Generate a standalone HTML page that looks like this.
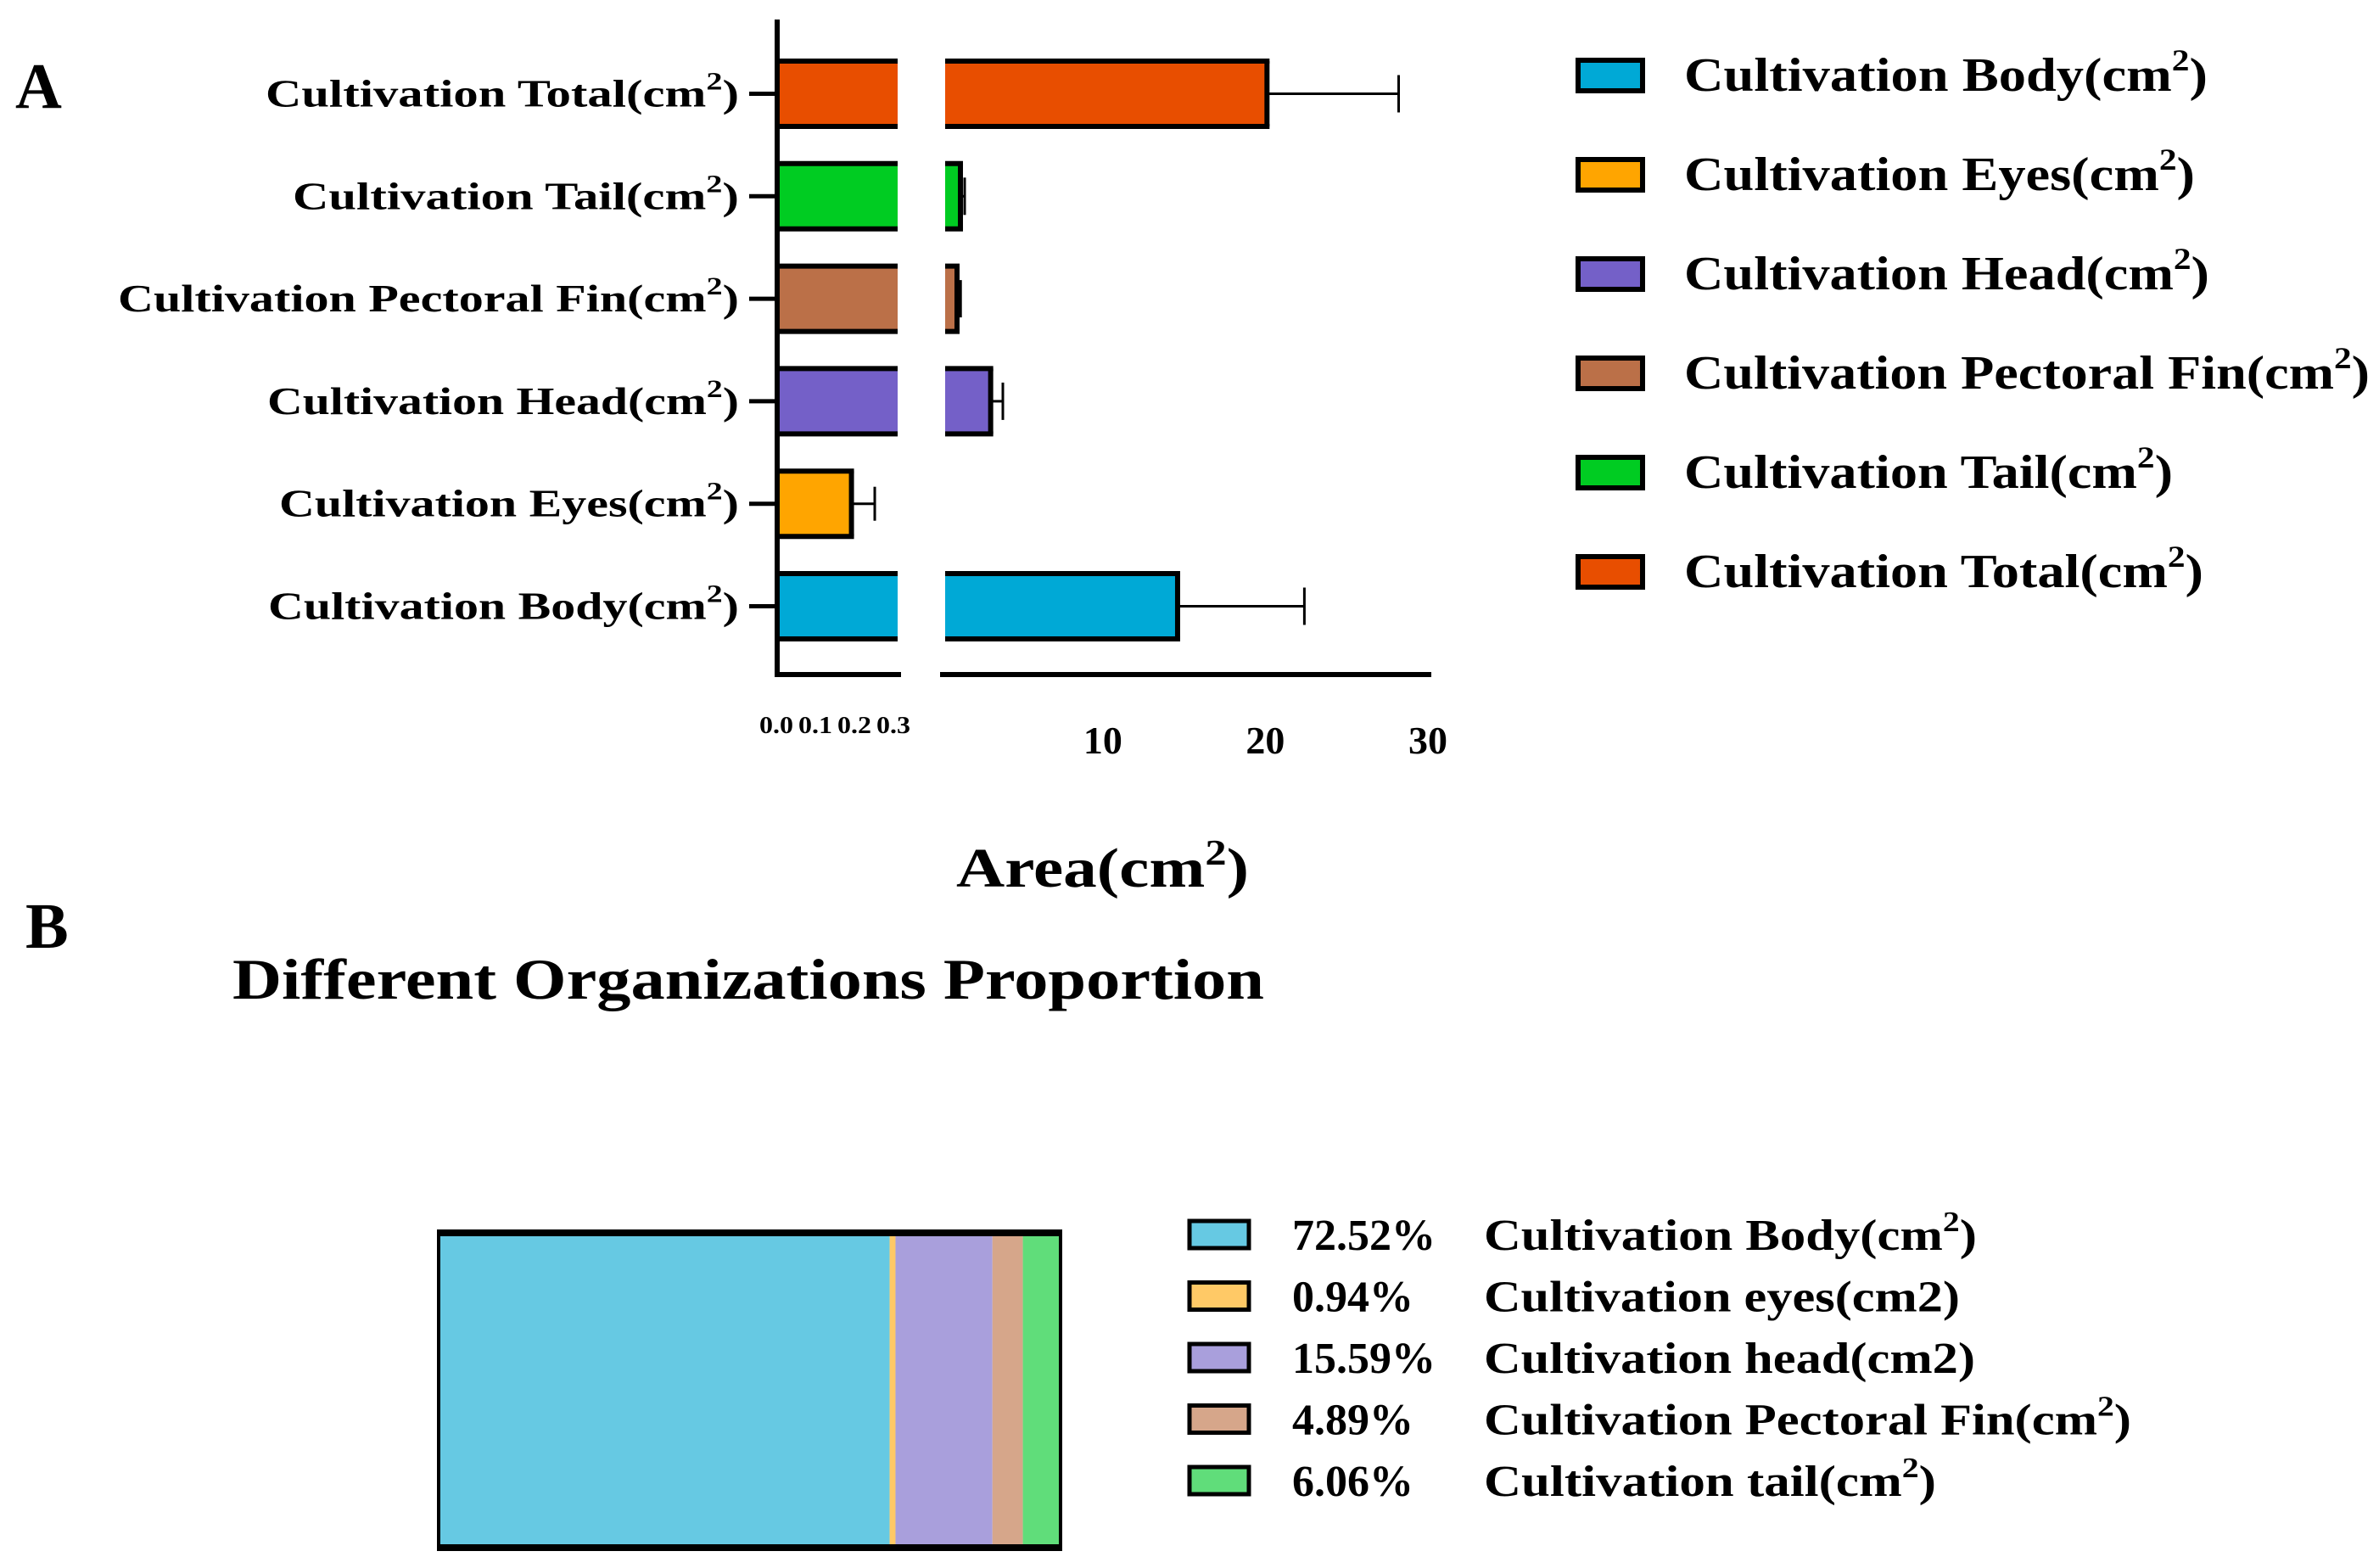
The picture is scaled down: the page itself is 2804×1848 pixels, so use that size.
<!DOCTYPE html>
<html><head><meta charset="utf-8"><style>
html,body{margin:0;padding:0;background:#fff}
svg{display:block}
text{font-family:"Liberation Serif",serif;font-weight:bold;fill:#000}
</style></head><body>
<svg id="chart" width="2804" height="1848" viewBox="0 0 2804 1848" xmlns="http://www.w3.org/2000/svg">
<text x="18" y="127" font-size="76">A</text>
<text x="30" y="1117" font-size="76">B</text>
<text x="274" y="1177" font-size="68" textLength="1216" lengthAdjust="spacingAndGlyphs">Different Organizations Proportion</text>
<text x="1127" y="1045" font-size="66" textLength="345" lengthAdjust="spacingAndGlyphs">Area(cm<tspan font-size="42" dy="-26">2</tspan><tspan dy="26">)</tspan></text>
<g id="plotA"></g>
<g id="legendA"></g>
<g id="plotB"></g>
<g id="legendB"></g>
</svg>
<script>
const categories = ["Body","Eyes","Head","Pectoral Fin","Tail","Total"];
const means = [14.6, 0.185, 3.1, 1.03, 1.24, 20.1];
const errors = [7.8, 0.058, 0.75, 0.22, 0.26, 8.1];
const colors = ["#00A9D6","#FFA500","#7460C8","#BB7048","#00CC22","#E84E00"];
const lowTicks = ["0.0","0.1","0.2","0.3"];
const highTicks = [10,20,30];
const propLabels = ["Cultivation Body(cm2)","Cultivation eyes(cm2)","Cultivation head(cm2)","Cultivation Pectoral Fin(cm2)","Cultivation tail(cm2)"];
const propValues = [72.52, 0.94, 15.59, 4.89, 6.06];
const propColors = ["#66C9E3","#FFC966","#A99FDC","#D6A68A","#60DD7A"];

const NS="http://www.w3.org/2000/svg";
function mk(parent,tag,attrs,txt){const e=document.createElementNS(NS,tag);for(const k in attrs)e.setAttribute(k,attrs[k]);if(txt!==undefined)e.textContent=txt;parent.appendChild(e);return e;}

const axX=916, axTop=23, axBot=795, lowEnd=1060, hiStart=1114, hiEnd=1687, lowMax=0.3;
const xLow=v=>axX+Math.min(v,lowMax)/lowMax*(lowEnd-2-axX);
const xHigh=v=>hiStart+(v-0.3)*(1683-hiStart)/29.7;
const rowY=i=>714.5-i*120.8;
const barH=77;
const A=document.getElementById('plotA');
const labelRight=871;
const labW={"Body":555,"Eyes":542,"Head":556,"Pectoral Fin":732,"Tail":526,"Total":558};
categories.forEach((c,i)=>{
  const cy=rowY(i), y0=cy-barH/2;
  const g=mk(A,'g',{});
  
  
  const lx=xLow(means[i]);
  mk(g,'rect',{x:axX,y:y0,width:lx-axX,height:barH,fill:colors[i]});
  mk(g,'line',{x1:axX,y1:y0,x2:lx+(means[i]<lowMax?3:0),y2:y0,stroke:'#000','stroke-width':6});
  mk(g,'line',{x1:axX,y1:y0+barH,x2:lx+(means[i]<lowMax?3:0),y2:y0+barH,stroke:'#000','stroke-width':6});
  if(means[i]<lowMax){
    mk(g,'line',{x1:lx,y1:y0,x2:lx,y2:y0+barH,stroke:'#000','stroke-width':6});
    const ex=xLow(means[i]+errors[i]);
    mk(g,'line',{x1:lx,y1:cy,x2:ex,y2:cy,stroke:'#000','stroke-width':3});
    mk(g,'line',{x1:ex,y1:cy-20,x2:ex,y2:cy+20,stroke:'#000','stroke-width':3});
  } else {
    const hx=xHigh(means[i]);
    mk(g,'rect',{x:hiStart,y:y0,width:hx-hiStart,height:barH,fill:colors[i]});
    mk(g,'line',{x1:hiStart,y1:y0,x2:hx+3,y2:y0,stroke:'#000','stroke-width':6});
    mk(g,'line',{x1:hiStart,y1:y0+barH,x2:hx+3,y2:y0+barH,stroke:'#000','stroke-width':6});
    mk(g,'line',{x1:hx,y1:y0,x2:hx,y2:y0+barH,stroke:'#000','stroke-width':6});
    const ex=xHigh(means[i]+errors[i]);
    mk(g,'line',{x1:hx,y1:cy,x2:ex,y2:cy,stroke:'#000','stroke-width':3});
    mk(g,'line',{x1:ex,y1:cy-22,x2:ex,y2:cy+22,stroke:'#000','stroke-width':3});
  }
  mk(A,'line',{x1:883,y1:cy,x2:axX,y2:cy,stroke:'#000','stroke-width':5});
  const t=mk(A,'text',{x:labelRight-labW[c],y:cy+15,'font-size':46,textLength:labW[c],lengthAdjust:'spacingAndGlyphs'});
  
  
  t.textContent='Cultivation '+c+'(cm';
  mk(t,'tspan',{'font-size':30,dy:-20},'2');
  mk(t,'tspan',{dy:20},')');
});
mk(A,'line',{x1:axX,y1:axTop,x2:axX,y2:axBot+3,stroke:'#000','stroke-width':6});
mk(A,'line',{x1:axX-3,y1:axBot,x2:lowEnd+2,y2:axBot,stroke:'#000','stroke-width':6});
mk(A,'line',{x1:hiStart-6,y1:axBot,x2:hiEnd,y2:axBot,stroke:'#000','stroke-width':6});
lowTicks.forEach((t,i)=>{
  const e=mk(A,'text',{x:915+i*46,y:864,'font-size':29,'text-anchor':'middle',textLength:40,lengthAdjust:'spacingAndGlyphs'},t);
  
  
});
highTicks.forEach(t=>{
  const e=mk(A,'text',{x:xHigh(t),y:888,'font-size':46,'text-anchor':'middle'},String(t));
  
  
});

const LA=document.getElementById('legendA');
const legWA=[617,602,619,808,576,612];
categories.forEach((c,i)=>{
  const y=89+i*117;
  const g=mk(LA,'g',{});
  
  
  mk(g,'rect',{x:1860,y:y-18,width:76,height:36,fill:colors[i],stroke:'#000','stroke-width':6});
  const t=mk(g,'text',{x:1985,y:y+18,'font-size':56,textLength:legWA[i],lengthAdjust:'spacingAndGlyphs'});
  t.textContent='Cultivation '+c+'(cm';
  mk(t,'tspan',{'font-size':36,dy:-24},'2');
  mk(t,'tspan',{dy:24},')');
});

const B=document.getElementById('plotB');
const bx0=517,bx1=1250,by0=1453,by1=1824;
const total=propValues.reduce((a,b)=>a+b,0);
let acc=0;
propValues.forEach((v,i)=>{
  const x=bx0+acc/total*(bx1-bx0), w=v/total*(bx1-bx0);
  const r=mk(B,'rect',{x:x,y:by0,width:w,height:by1-by0,fill:propColors[i]});
  
  
  acc+=v;
});
mk(B,'rect',{x:bx0,y:by0,width:bx1-bx0,height:by1-by0,fill:'none',stroke:'#000','stroke-width':4});
mk(B,'line',{x1:bx0-2,y1:by0,x2:bx1+2,y2:by0,stroke:'#000','stroke-width':8});
mk(B,'line',{x1:bx0-2,y1:by1,x2:bx1+2,y2:by1,stroke:'#000','stroke-width':8});

const LB=document.getElementById('legendB');
const nameW=[581,561,579,763,533];
const supIdx=[true,false,false,true,true];
propLabels.forEach((lab,i)=>{
  const y=1455+i*72.5;
  const g=mk(LB,'g',{});
  
  
  mk(g,'rect',{x:1402,y:y-16,width:70,height:32,fill:propColors[i],stroke:'#000','stroke-width':5});
  mk(g,'text',{x:1523,y:y+18,'font-size':52},propValues[i].toFixed(2)+'%');
  const t=mk(g,'text',{x:1749,y:y+18,'font-size':52,textLength:nameW[i],lengthAdjust:'spacingAndGlyphs'});
  if(supIdx[i]){
    t.textContent=lab.replace('cm2)','cm');
    mk(t,'tspan',{'font-size':34,dy:-22},'2');
    mk(t,'tspan',{dy:22},')');
  } else t.textContent=lab;
});
</script>
</body></html>
